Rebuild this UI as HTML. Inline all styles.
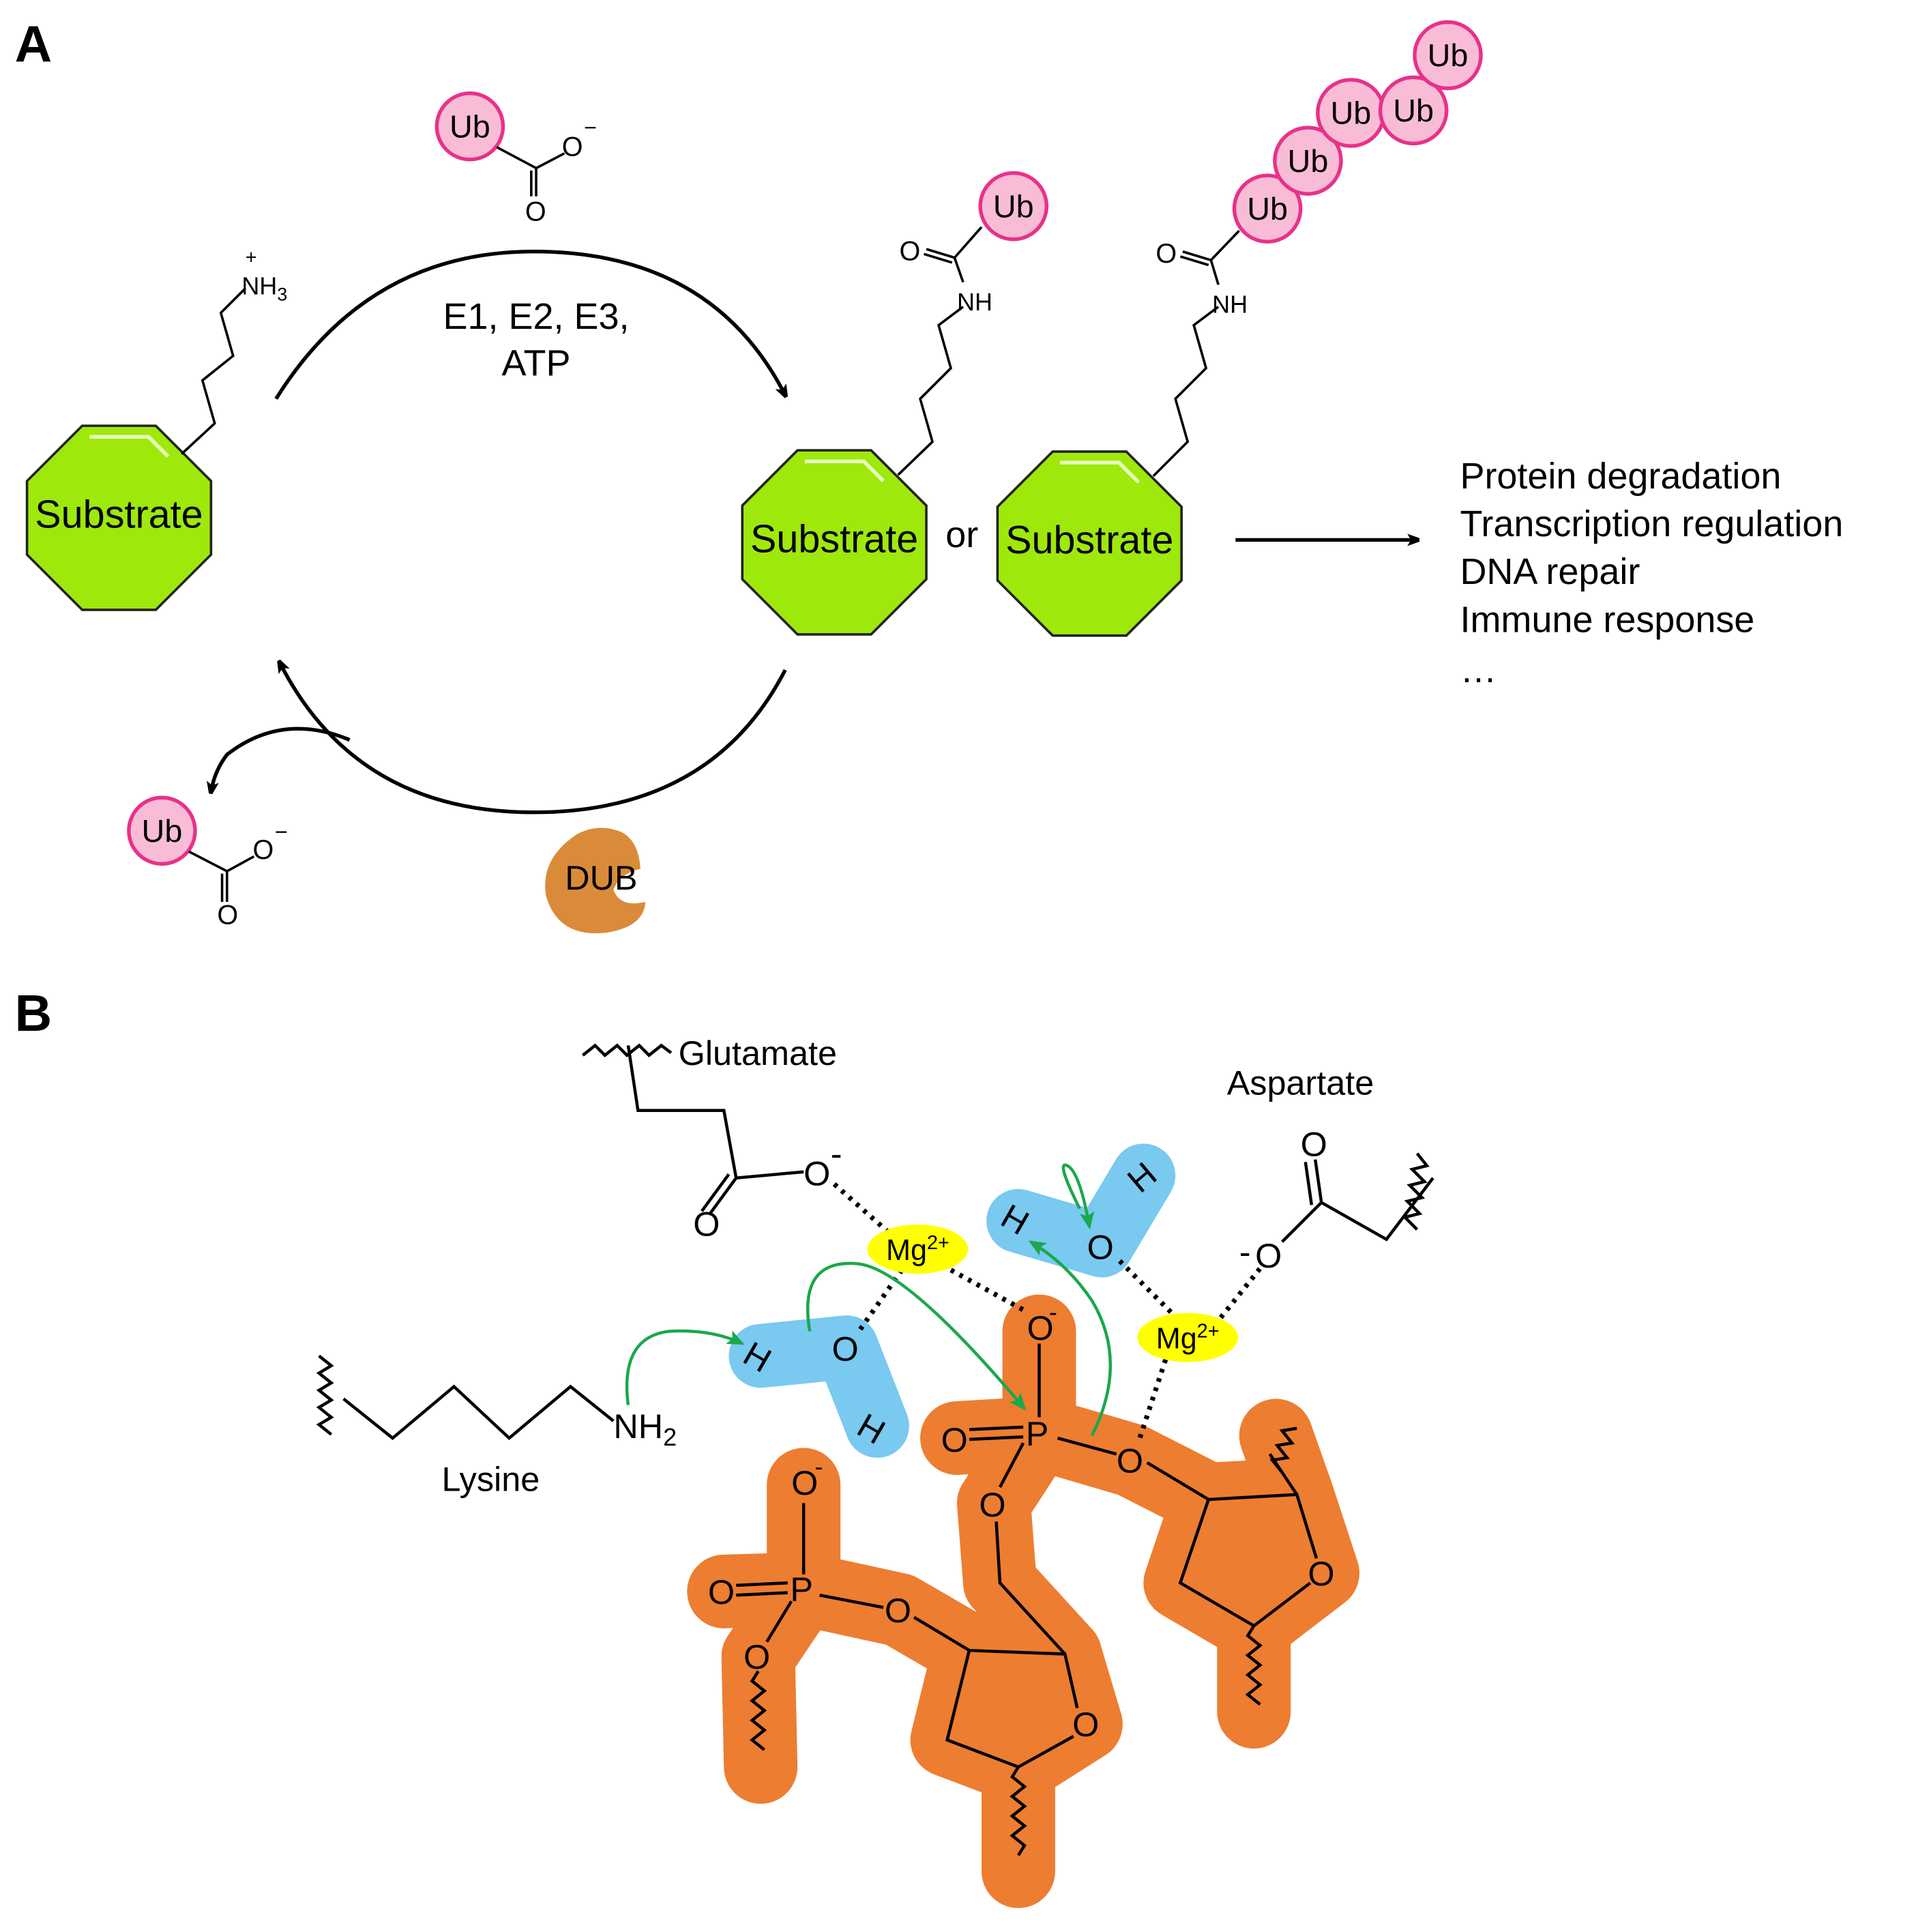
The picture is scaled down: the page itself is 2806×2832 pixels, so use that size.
<!DOCTYPE html>
<html><head><meta charset="utf-8"><style>html,body{margin:0;padding:0;background:#fff}svg{display:block}</style></head><body>
<svg width="2806" height="2832" viewBox="0 0 1560 1574.5" preserveAspectRatio="none" xmlns="http://www.w3.org/2000/svg" font-family="Liberation Sans, sans-serif">
<defs>
<marker id="ah" markerWidth="10" markerHeight="10" refX="8" refY="5" orient="auto" markerUnits="userSpaceOnUse"><path d="M0,0 L14,5 L0,10 L3,5z" fill="#000"/></marker>
<marker id="gh" markerWidth="14" markerHeight="12" refX="12" refY="6" orient="auto" markerUnits="userSpaceOnUse"><path d="M0,0 L14,6 L0,12 L3,6z" fill="#1aa84a"/></marker>
<g id="oct"><polygon points="-30,-75 30,-75 75,-30 75,30 30,75 -30,75 -75,30 -75,-30" fill="#9fe80c" stroke="#222" stroke-width="2"/><polyline points="-24,-66 24,-66 40,-50" fill="none" stroke="#e8ffc0" stroke-width="3"/></g>
<g id="ub"><circle r="27" fill="#f9bcd6" stroke="#e8318a" stroke-width="3"/><text y="9" font-size="26" text-anchor="middle">Ub</text></g>
</defs>
<text x="12" y="50" font-size="42" font-weight="bold">A</text>
<text x="12" y="840" font-size="42" font-weight="bold">B</text>
<use href="#ub" x="383" y="103"/>
<g stroke="#000" stroke-width="2" fill="none"><path d="M405,120 L437,137 L460,125 M437,137 L437,160 M433,139 L433,160"/></g>
<text x="458" y="127" font-size="22">O</text><text x="476" y="110" font-size="18">−</text>
<text x="428" y="180" font-size="22">O</text>
<use href="#oct" x="97" y="422"/>
<text x="97" y="430" font-size="32" text-anchor="middle">Substrate</text>
<polyline points="148,370 175,345 165,310 190,290 180,255 200,235" fill="none" stroke="#000" stroke-width="2"/>
<text x="197" y="240" font-size="20">NH<tspan font-size="15" dy="5">3</tspan></text><text x="200" y="215" font-size="16">+</text>
<path d="M225,325 Q300,205 435,205 Q580,205 640,322" fill="none" stroke="#000" stroke-width="3" marker-end="url(#ah)"/>
<text x="437" y="268" font-size="30" text-anchor="middle">E1, E2, E3,</text>
<text x="437" y="306" font-size="30" text-anchor="middle">ATP</text>
<path d="M640,546 Q580,662 435,662 Q290,662 228,540" fill="none" stroke="#000" stroke-width="3" marker-end="url(#ah)"/>
<path d="M285,603 Q230,580 185,615 Q175,628 172,645" fill="none" stroke="#000" stroke-width="3" marker-end="url(#ah)"/>
<use href="#ub" x="132" y="677"/>
<g stroke="#000" stroke-width="2" fill="none"><path d="M154,694 L185,710 L207,698 M185,710 L185,735 M181,712 L181,735"/></g>
<text x="206" y="700" font-size="22">O</text><text x="224" y="684" font-size="18">−</text>
<text x="177" y="753" font-size="22">O</text>
<path d="M470,680 Q440,700 445,730 Q455,765 495,760 Q525,755 526,735 Q505,740 500,725 Q505,712 522,708 Q520,680 500,676 Q485,672 470,680z" fill="#d98b3a"/>
<text x="490" y="725" font-size="28" text-anchor="middle">DUB</text>
<use href="#oct" x="680" y="442"/>
<text x="680" y="450" font-size="32" text-anchor="middle">Substrate</text>
<text x="784" y="446" font-size="30" text-anchor="middle">or</text>
<use href="#oct" x="888" y="443"/>
<text x="888" y="451" font-size="32" text-anchor="middle">Substrate</text>
<polyline points="732,387 760,360 750,325 775,300 765,265 785,250" fill="none" stroke="#000" stroke-width="2"/>
<text x="780" y="253" font-size="20">NH</text>
<polyline points="785,230 778,210 800,185" fill="none" stroke="#000" stroke-width="2"/>
<path d="M778,210 L755,203 M776,214 L753,207" stroke="#000" stroke-width="2"/>
<text x="733" y="212" font-size="22">O</text>
<use href="#ub" x="826" y="168"/>
<polyline points="940,388 968,360 958,325 983,300 973,265 993,250" fill="none" stroke="#000" stroke-width="2"/>
<text x="988" y="255" font-size="20">NH</text>
<polyline points="993,232 987,212 1010,188" fill="none" stroke="#000" stroke-width="2"/>
<path d="M987,212 L964,205 M985,216 L962,209" stroke="#000" stroke-width="2"/>
<text x="942" y="214" font-size="22">O</text>
<use href="#ub" x="1033" y="170"/><use href="#ub" x="1066" y="131"/><use href="#ub" x="1101" y="92"/><use href="#ub" x="1152" y="90"/><use href="#ub" x="1180" y="45"/>
<line x1="1007" y1="440" x2="1155" y2="440" stroke="#000" stroke-width="3" marker-end="url(#ah)"/>
<g font-size="30"><text x="1190" y="398">Protein degradation</text><text x="1190" y="437">Transcription regulation</text><text x="1190" y="476">DNA repair</text><text x="1190" y="515">Immune response</text><text x="1190" y="556">…</text></g>
<path fill="#ed7d31" stroke="#ed7d31" stroke-width="60" stroke-linejoin="round" stroke-linecap="round" d="M790,1345 L868,1348 L885,1405 L830,1440 L772,1418 Z M985,1222 L1057,1218 L1078,1282 L1022,1325 L962,1290 Z"/>
<path fill="none" stroke="#ed7d31" stroke-width="60" stroke-linejoin="round" stroke-linecap="round" d="M655,1210 L655,1295 L590,1297 M655,1295 L733,1312 L790,1345 M830,1440 L830,1525 M655,1295 L618,1350 L620,1440 M868,1348 L815,1290 L810,1225 L847,1168 L847,1085 M847,1168 L780,1172 M847,1168 L922,1190 L985,1222 M1022,1325 L1022,1395 M1057,1218 L1040,1170"/>
<g fill="none" stroke="#79c9f0" stroke-width="52" stroke-linejoin="round" stroke-linecap="round">
<polyline points="620,1105 690,1098 715,1162"/><polyline points="830,995 898,1015 932,958"/>
</g>
<g fill="none" stroke="#000" stroke-width="2.5">
<path d="M655,1225 L655,1283 M600,1292 L642,1290 M600,1300 L642,1298 M668,1300 L720,1310 M745,1318 L790,1345 L868,1348 L878,1392 M875,1415 L830,1440 L772,1418 L790,1345 M645,1305 L625,1338"/>
<path d="M868,1348 L815,1290 L812,1240 M834,1176 L815,1212 M847,1095 L847,1155 M790,1165 L834,1163 M790,1173 L834,1171 M862,1172 L910,1185 M935,1192 L985,1222 L1057,1218 L1073,1270 M1068,1290 L1022,1325 L962,1290 L985,1222"/>
<path d="M830,1440 l-5,8 l10,8 l-10,8 l10,8 l-10,8 l10,8 l-10,8 l10,8 l-5,8"/>
<path d="M1022,1325 l-5,8 l10,8 l-10,8 l10,8 l-10,8 l10,8 l-10,8 l10,8"/>
<path d="M618,1362 l-5,8 l10,8 l-10,8 l10,8 l-10,8 l10,8 l-10,8 l10,8"/>
<path d="M1057,1218 L1035,1185 M1045,1200 l-8,-10 l12,-2 l-8,-10 l12,-2 l-8,-10 l12,-2"/>
<path d="M475,860 l10,-8 l8,8 l10,-8 l8,8 l10,-8 l8,8 l10,-8 l8,6 M512,852 L520,905 L590,905 L600,960 L655,955 M600,960 L578,990 M594,957 L572,987"/>
<path d="M1072,945 L1077,980 M1064,947 L1069,982 M1077,980 L1045,1012 M1077,980 L1130,1010 L1168,960 M1155,940 l8,10 l-12,3 l10,10 l-12,3 l10,10 l-12,3 l10,10 l-12,3 l10,10"/>
<path d="M280,1140 L320,1172 L370,1130 L415,1172 L465,1130 L500,1158 M260,1105 l10,8 l-10,6 l10,8 l-10,6 l10,8 l-10,6 l10,8 l-10,6 l10,8"/>
</g>
<g stroke="#000" stroke-width="4" stroke-dasharray="3,5" fill="none">
<path d="M680,965 L725,1005 M735,1035 L700,1085 M775,1035 L835,1068 M960,1075 L910,1025 M990,1080 L1030,1030 M950,1108 L928,1175"/>
</g>
<ellipse cx="748" cy="1018" rx="41" ry="20" fill="#ffff00"/>
<ellipse cx="968" cy="1090" rx="41" ry="20" fill="#ffff00"/>
<text x="748" y="1027" font-size="24" text-anchor="middle">Mg<tspan font-size="16" dy="-9">2+</tspan></text>
<text x="968" y="1099" font-size="24" text-anchor="middle">Mg<tspan font-size="16" dy="-9">2+</tspan></text>
<g fill="none" stroke="#1aa84a" stroke-width="2.5">
<path d="M512,1145 Q505,1090 545,1085 Q580,1083 605,1095" marker-end="url(#gh)"/>
<path d="M660,1085 Q650,1025 700,1030 Q740,1035 835,1148" marker-end="url(#gh)"/>
<path d="M890,1170 Q920,1110 890,1060 Q870,1030 840,1012" marker-end="url(#gh)"/>
<path d="M880,985 Q860,945 870,950 Q880,955 888,1000" marker-end="url(#gh)"/>
</g>
<g font-size="28">
<text x="553" y="868">Glutamate</text><text x="1000" y="892">Aspartate</text><text x="360" y="1215">Lysine</text>
<text x="655" y="966">O</text><text x="677" y="950">-</text>
<text x="565" y="1007">O</text>
<text x="1060" y="942">O</text>
<text x="1010" y="1030">-</text><text x="1023" y="1033">O</text>
<text x="500" y="1172">NH<tspan font-size="20" dy="6">2</tspan></text>
<text x="607" y="1117" transform="rotate(30 620 1107)">H</text>
<text x="678" y="1109">O</text>
<text x="700" y="1175" transform="rotate(30 712 1165)">H</text>
<text x="817" y="1005" transform="rotate(30 830 995)">H</text>
<text x="886" y="1026">O</text>
<text x="920" y="968" transform="rotate(-40 932 958)">H</text>
<text x="837" y="1092">O</text><text x="855" y="1076" font-size="20">-</text>
<text x="767" y="1183">O</text><text x="836" y="1178">P</text><text x="910" y="1200">O</text>
<text x="798" y="1236">O</text>
<text x="645" y="1218">O</text><text x="664" y="1202" font-size="20">-</text>
<text x="577" y="1307">O</text><text x="644" y="1305">P</text><text x="721" y="1322">O</text>
<text x="606" y="1360">O</text>
<text x="874" y="1415">O</text><text x="1066" y="1292">O</text>
</g>
</svg>
</body></html>
